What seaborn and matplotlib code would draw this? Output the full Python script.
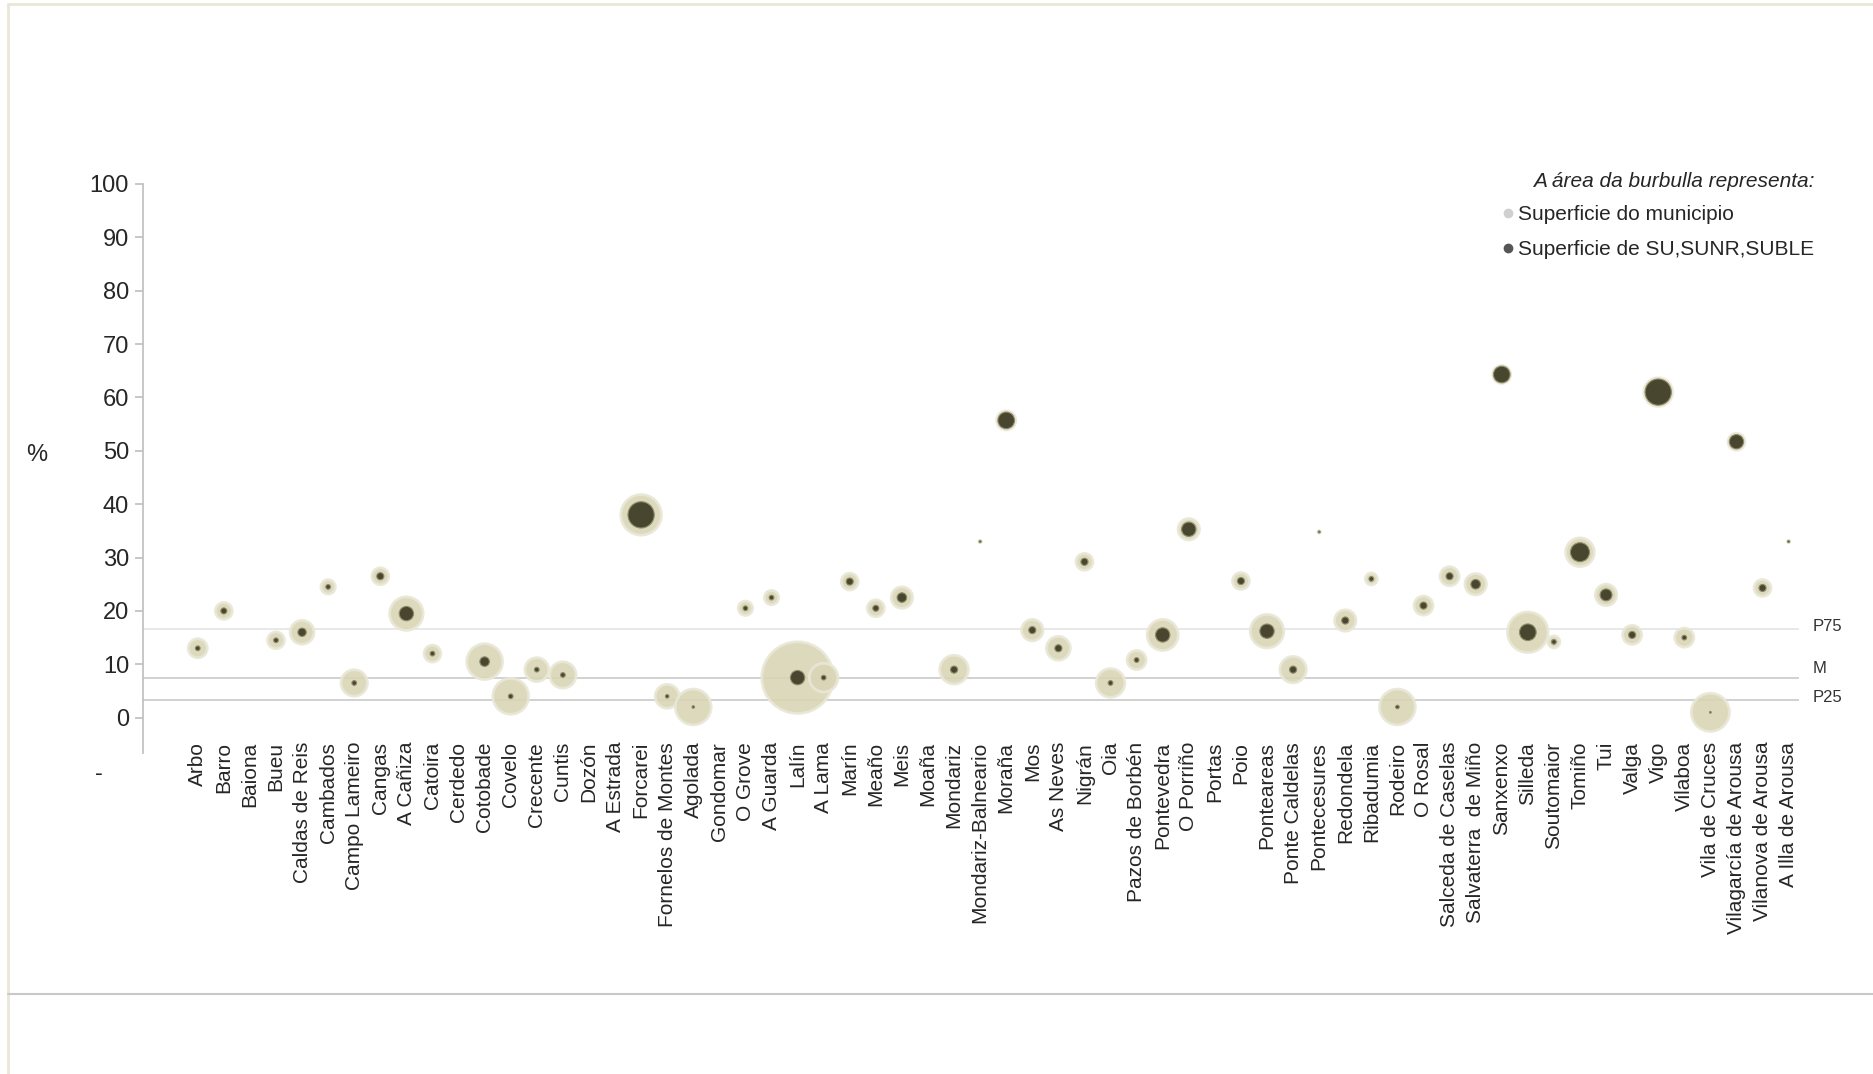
import numpy as np
import pandas as pd
import seaborn as sns
import matplotlib.pyplot as plt
from matplotlib.lines import Line2D

# Concellos da provincia de Pontevedra (orde do eixo X)
municipios = ["Arbo", "Barro", "Baiona", "Bueu", "Caldas de Reis", "Cambados",
              "Campo Lameiro", "Cangas", "A Cañiza", "Catoira", "Cerdedo", "Cotobade",
              "Covelo", "Crecente", "Cuntis", "Dozón", "A Estrada", "Forcarei",
              "Fornelos de Montes", "Agolada", "Gondomar", "O Grove", "A Guarda", "Lalín",
              "A Lama", "Marín", "Meaño", "Meis", "Moaña", "Mondariz", "Mondariz-Balneario",
              "Moraña", "Mos", "As Neves", "Nigrán", "Oia", "Pazos de Borbén", "Pontevedra",
              "O Porriño", "Portas", "Poio", "Ponteareas", "Ponte Caldelas", "Pontecesures",
              "Redondela", "Ribadumia", "Rodeiro", "O Rosal", "Salceda de Caselas",
              "Salvaterra  de Miño", "Sanxenxo", "Silleda", "Soutomaior", "Tomiño", "Tui",
              "Valga", "Vigo", "Vilaboa", "Vila de Cruces", "Vilagarcía de Arousa",
              "Vilanova de Arousa", "A Illa de Arousa"]

# % de solo urbano / urbanizable sobre a superficie do municipio
porcentaxe = [13, 20, None, 14.5, 16, 24.5,
              6.5, 26.5, 19.5, 12, None, 10.5,
              4, 9, 8, None, None, 38,
              4, 2, None, 20.5, 22.5, 7.5,
              7.5, 25.5, 20.5, 22.5, None, 9, 33,
              55.7, 16.4, 13, 29.2, 6.5, 10.8, 15.5,
              35.3, None, 25.6, 16.2, 9, 34.8,
              18.2, 26, 2, 21, 26.5,
              25, 64.3, 16, 14.2, 31, 23,
              15.5, 61, 15, 1, 51.7,
              24.3, 33]

# Superficie do municipio (área da burbulla clara)
sup_municipio = [23, 18, None, 18, 36, 13,
                 44, 18, 71, 18, None, 81,
                 81, 36, 44, None, None, 104,
                 36, 81, None, 13, 13, 324,
                 52, 18, 18, 29, None, 52, 0.4,
                 23, 29, 36, 18, 52, 23, 61,
                 29, None, 18, 71, 44, 0.4,
                 29, 9, 81, 23, 23,
                 29, 20, 104, 9, 52, 29,
                 23, 52, 23, 92, 18,
                 18, 0.4]

# Superficie de SU, SUNR, SUBLE (área da burbulla escura)
sup_su = [1.4, 2.3, None, 1.4, 4.4, 1.4,
          1.4, 3.2, 13, 1.4, None, 5.8,
          1.4, 1.4, 1.4, None, None, 43.6,
          0.8, 0.4, None, 1.4, 1.4, 13,
          1.4, 3.2, 2.3, 5.8, None, 3.2, 0.3,
          17.6, 3.2, 3.2, 3.2, 1.4, 1.4, 13,
          13, None, 3.2, 13, 3.2, 0.3,
          3.2, 1.4, 0.8, 3.2, 3.2,
          5.8, 17.6, 17.6, 1.4, 23, 9,
          3.2, 43.6, 1.4, 0.2, 13,
          3.2, 0.3]

percentis = {"P75": 16.6, "M": 7.4, "P25": 3.4}
y_ticks = [-10, 0, 10, 20, 30, 40, 50, 60, 70, 80, 90, 100]

df = pd.DataFrame({"municipio": municipios,
                   "pos": np.arange(len(municipios)),
                   "pct": porcentaxe,
                   "sup_mun": sup_municipio,
                   "sup_su": sup_su})

sns.set_theme(style="white")
plt.rcParams["font.family"] = ["Liberation Sans", "DejaVu Sans"]

K = 8.2  # puntos^2 por unidade de superficie
fig = plt.figure(figsize=(18.74, 10.74), dpi=100)
ax = fig.add_axes([0.0763, 0.2821, 0.96 - 0.0763, 0.8287 - 0.2821])

# burbullas claras: superficie do municipio
vmax = df["sup_mun"].max()
sns.scatterplot(data=df, x="pos", y="pct", size="sup_mun",
                sizes=(0, vmax * K), size_norm=(0, vmax),
                color="#d9d5b6", edgecolor="#e9e7d6", linewidth=2,
                alpha=0.9, legend=False, ax=ax, zorder=2)

# burbullas escuras: superficie de SU, SUNR, SUBLE
vmax2 = df["sup_su"].max()
sns.scatterplot(data=df, x="pos", y="pct", size="sup_su",
                sizes=(0, vmax2 * K), size_norm=(0, vmax2),
                color="#48462e", edgecolor="#8f8c6c", linewidth=0.8,
                legend=False, ax=ax, zorder=3)

# liñas de percentís
for nome, val in percentis.items():
    ax.axhline(val, color="#c9c9c9" if nome != "P75" else "#e4e4e4", lw=1.2, zorder=1)
offs = {"P75": 0.4, "M": 1.8, "P25": 0.4}
for nome, val in percentis.items():
    ax.text(1.008, val + offs[nome], nome, transform=ax.get_yaxis_transform(),
            fontsize=12, color="#333333", va="center", ha="left")

ax.set_xlim(-2.1, 61.4)
ax.set_ylim(-10, 100)
ax.set_yticks(y_ticks)
ax.set_yticklabels(["-    "] + [str(t) for t in y_ticks[1:]], fontsize=17)
ax.set_xticks(df["pos"])
ax.set_xticklabels(municipios, rotation=90, fontsize=15)
ax.tick_params(axis="x", length=0, pad=-21)
ax.tick_params(axis="y", length=6, color="#c0c0c0", direction="out", left=True, pad=4)
ax.yaxis.get_major_ticks()[0].tick1line.set_visible(False)
ax.set_xlabel("")
ax.set_ylabel("%", rotation=0, fontsize=17, labelpad=0)
ax.yaxis.set_label_coords(-0.064, 0.52)

for s in ["top", "right", "bottom"]:
    ax.spines[s].set_visible(False)
ax.spines["left"].set_color("#c0c0c0")
ax.spines["left"].set_bounds(-6.7, 100)

# lenda
handles = [Line2D([], [], marker="o", ls="", color="#d0d0d0", markersize=6),
           Line2D([], [], marker="o", ls="", color="#555555", markersize=6)]
leg = fig.legend(handles, ["Superficie do municipio", "Superficie de SU,SUNR,SUBLE"],
                 loc="upper left", bbox_to_anchor=(0.79, 0.857), frameon=False,
                 fontsize=15, handletextpad=0.1, handlelength=0.8, labelspacing=0.75,
                 title="A área da burbulla representa:",
                 title_fontproperties={"size": 15, "style": "italic"})
leg._legend_box.align = "right"
leg._legend_box.sep = 10

# marco da imaxe
fig.add_artist(Line2D([8 / 1874, 8 / 1874], [0, 1 - 4 / 1074], color="#e9e7d6", lw=2))
fig.add_artist(Line2D([8 / 1874, 1], [1 - 4 / 1074, 1 - 4 / 1074], color="#e9e7d6", lw=2))
fig.add_artist(Line2D([8 / 1874, 1], [1 - 994 / 1074, 1 - 994 / 1074], color="#c8c8c8", lw=1.5))

plt.savefig("out.png", dpi=100)
plt.close()
